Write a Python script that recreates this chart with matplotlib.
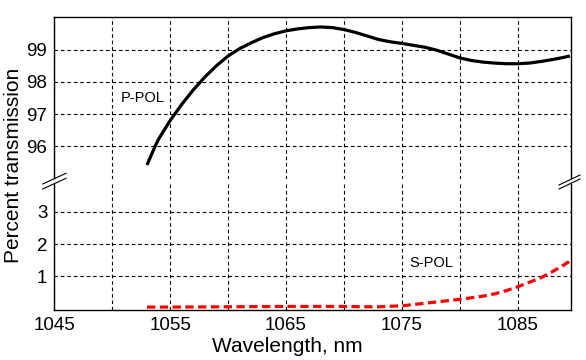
import matplotlib
matplotlib.use("Agg")
import matplotlib.pyplot as plt
from matplotlib.lines import Line2D

plt.rcParams['font.family'] = ['Liberation Sans', 'DejaVu Sans']

# ---- data ----
p_wl = [1053, 1053.7, 1054, 1055, 1056, 1057, 1058, 1059, 1060, 1061, 1062,
        1063, 1064, 1065, 1066, 1067, 1068, 1069, 1070, 1071, 1072, 1073, 1074,
        1075, 1076, 1077, 1078, 1079, 1080, 1081, 1082, 1083, 1084, 1085, 1086,
        1087, 1088, 1089, 1089.5]
p_val = [95.42, 96.0, 96.22, 96.8, 97.3, 97.75, 98.15, 98.5, 98.8, 99.03, 99.21,
         99.37, 99.49, 99.58, 99.64, 99.68, 99.7, 99.68, 99.62, 99.53, 99.42, 99.31, 99.24,
         99.19, 99.13, 99.07, 98.98, 98.86, 98.74, 98.66, 98.61, 98.58, 98.56, 98.56, 98.58,
         98.63, 98.69, 98.76, 98.8]
s_wl = [1053, 1055, 1060, 1065, 1070, 1072, 1073, 1075, 1077, 1078, 1080, 1082, 1083,
        1084, 1085, 1086, 1087, 1088, 1089, 1089.5]
s_val = [0.05, 0.05, 0.06, 0.07, 0.07, 0.06, 0.06, 0.09, 0.17, 0.21, 0.29, 0.39, 0.46,
         0.56, 0.68, 0.82, 0.96, 1.15, 1.36, 1.48]

x_grid = [1045, 1050, 1055, 1060, 1065, 1070, 1075, 1080, 1085]
x_labels = ['1045', '', '1055', '', '1065', '', '1075', '', '1085']
top_ticks = [96, 97, 98, 99]
bot_ticks = [1, 2, 3]

W, H = 586, 360
fig = plt.figure(figsize=(W / 100, H / 100), dpi=100)

def fx(px):
    return px / W

def fy(py):
    return 1 - py / H

L, R = 54.3, 570.5
ax_top = fig.add_axes([fx(L), fy(178.5), fx(R - L), (178.5 - 17.3) / H])
ax_bot = fig.add_axes([fx(L), fy(310), fx(R - L), (310 - 183.5) / H])

grid_kw = dict(color='black', linewidth=0.8, linestyle=(0, (3.2, 2.6)))

for ax in (ax_top, ax_bot):
    ax.set_xlim(1045, 1089.55)
    ax.set_xticks(x_grid)
    ax.tick_params(length=0, labelsize=13.5, pad=5)
    ax.grid(True, **grid_kw)
    ax.set_axisbelow(True)
    for s in ax.spines.values():
        s.set_linewidth(1.0)
        s.set_color('black')

ax_top.set_ylim(95, 100)
ax_top.set_yticks(top_ticks)
ax_top.set_xticklabels([])
ax_top.spines['bottom'].set_visible(False)

ax_bot.set_ylim(-0.04, 3.88)
ax_bot.set_yticks(bot_ticks)
ax_bot.set_xticklabels(x_labels)
ax_bot.spines['top'].set_visible(False)

ax_top.plot(p_wl, p_val, color='black', linewidth=2.3, solid_capstyle='butt')
ax_bot.plot(s_wl, s_val, color='#ff0000', linewidth=2.3, linestyle=(0, (2.6, 1.4)))

ax_top.text(1050.7, 97.5, 'P-POL', fontsize=10.5, ha='left', va='center')
ax_bot.text(1075.6, 1.41, 'S-POL', fontsize=10.5, ha='left', va='center')

fig.text(fx(287.5), fy(346), 'Wavelength, nm', fontsize=15, ha='center', va='center')
fig.text(fx(14), fy(165), 'Percent transmission', fontsize=15, ha='center', va='center',
         rotation=90)

# axis-break marks
for (x0, y0, x1, y1) in [(42.7, 184, 66, 173.3), (42.7, 189, 66, 178.3),
                         (559, 185, 580, 175), (559, 189, 580, 179)]:
    fig.add_artist(Line2D([fx(x0), fx(x1)], [fy(y0), fy(y1)], color='black',
                          linewidth=0.8, transform=fig.transFigure))

fig.savefig('out.png', dpi=100)
